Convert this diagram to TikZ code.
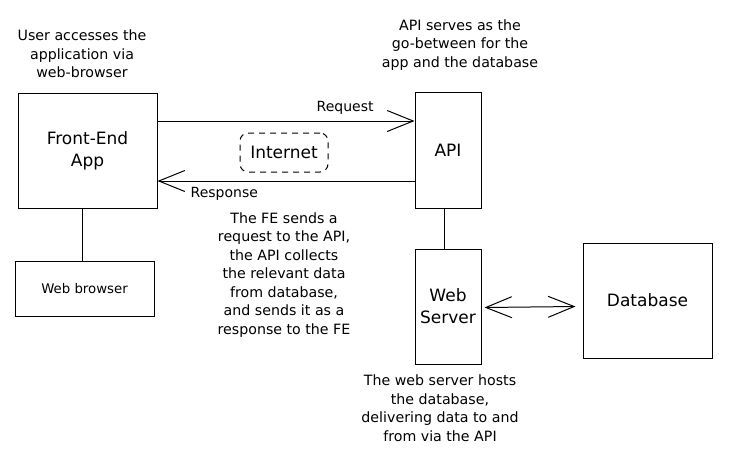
\documentclass[tikz,border=0pt]{standalone}
\usepackage{fontspec}
\setmainfont{DejaVu Sans}
\usetikzlibrary{arrows.meta}

\tikzset{
  box/.style={draw, line width=1pt, rectangle, align=center, inner sep=0pt, font=\fontsize{17}{22}\selectfont},
  note/.style={align=center, font=\fontsize{14.2}{18.5}\selectfont, inner sep=0pt},
  barb/.style={line width=1pt, -{Straight Barb[length=26pt,width=21pt]}},
}

\begin{document}
\begin{tikzpicture}[x=1pt,y=-1pt]
\useasboundingbox (0,0) rectangle (736,453);

% Boxes
\node[box, minimum width=139, minimum height=115] (fe) at (87.5,150.5) {Front-End\\App};
\node[box, minimum width=139, minimum height=55, font=\fontsize{13.3}{18}\selectfont] (wb) at (84.5,288.5) {Web browser};
\node[box, minimum width=66, minimum height=116] (api) at (448,150) {API};
\node[box, minimum width=66, minimum height=115] (ws) at (448,306.5) {Web\\Server};
\node[box, minimum width=129, minimum height=115] (db) at (647.5,300.5) {Database};

% Internet
\node[box, dash pattern=on 6pt off 5pt, rounded corners=8pt, minimum width=88, minimum height=39] (inet) at (284,152.5) {Internet};

% Connectors
\draw[line width=1pt] (fe.south) ++(-5pt,0) coordinate (feb) -- (feb |- wb.north);
\draw[line width=1pt] (api.south) ++(-4pt,0) coordinate (apib) -- (apib |- ws.north);
\draw[barb] ([yshift=29.5pt]fe.east) -- ([yshift=29.5pt]fe.east -| api.west) node[pos=0.73, above=3pt, font=\fontsize{14}{18}\selectfont] (req) {Request};
\draw[barb] ([yshift=-30.5pt]fe.east -| api.west) -- ([yshift=-30.5pt]fe.east) node[pos=0.74, below=2pt, font=\fontsize{14}{18}\selectfont] (resp) {Response};
\draw[barb, {Straight Barb[length=26pt,width=21pt]}-{Straight Barb[length=26pt,width=21pt]}] ([xshift=3pt,yshift=-1pt]ws.east) -- ([xshift=-7pt]ws.east -| db.west);

% Notes
\node[note] (n1) at (82,54) {User accesses the\\application via\\web-browser};
\node[note] (n2) at (460,45) {API serves as the\\go-between for the\\app and the database};
\node[note] (n3) at (284,275) {The FE sends a\\request to the API,\\the API collects\\the relevant data\\from database,\\and sends it as a\\response to the FE};
\node[note] (n4) at (440,408) {The web server hosts\\the database,\\delivering data to and\\from via the API};

\end{tikzpicture}
\end{document}
